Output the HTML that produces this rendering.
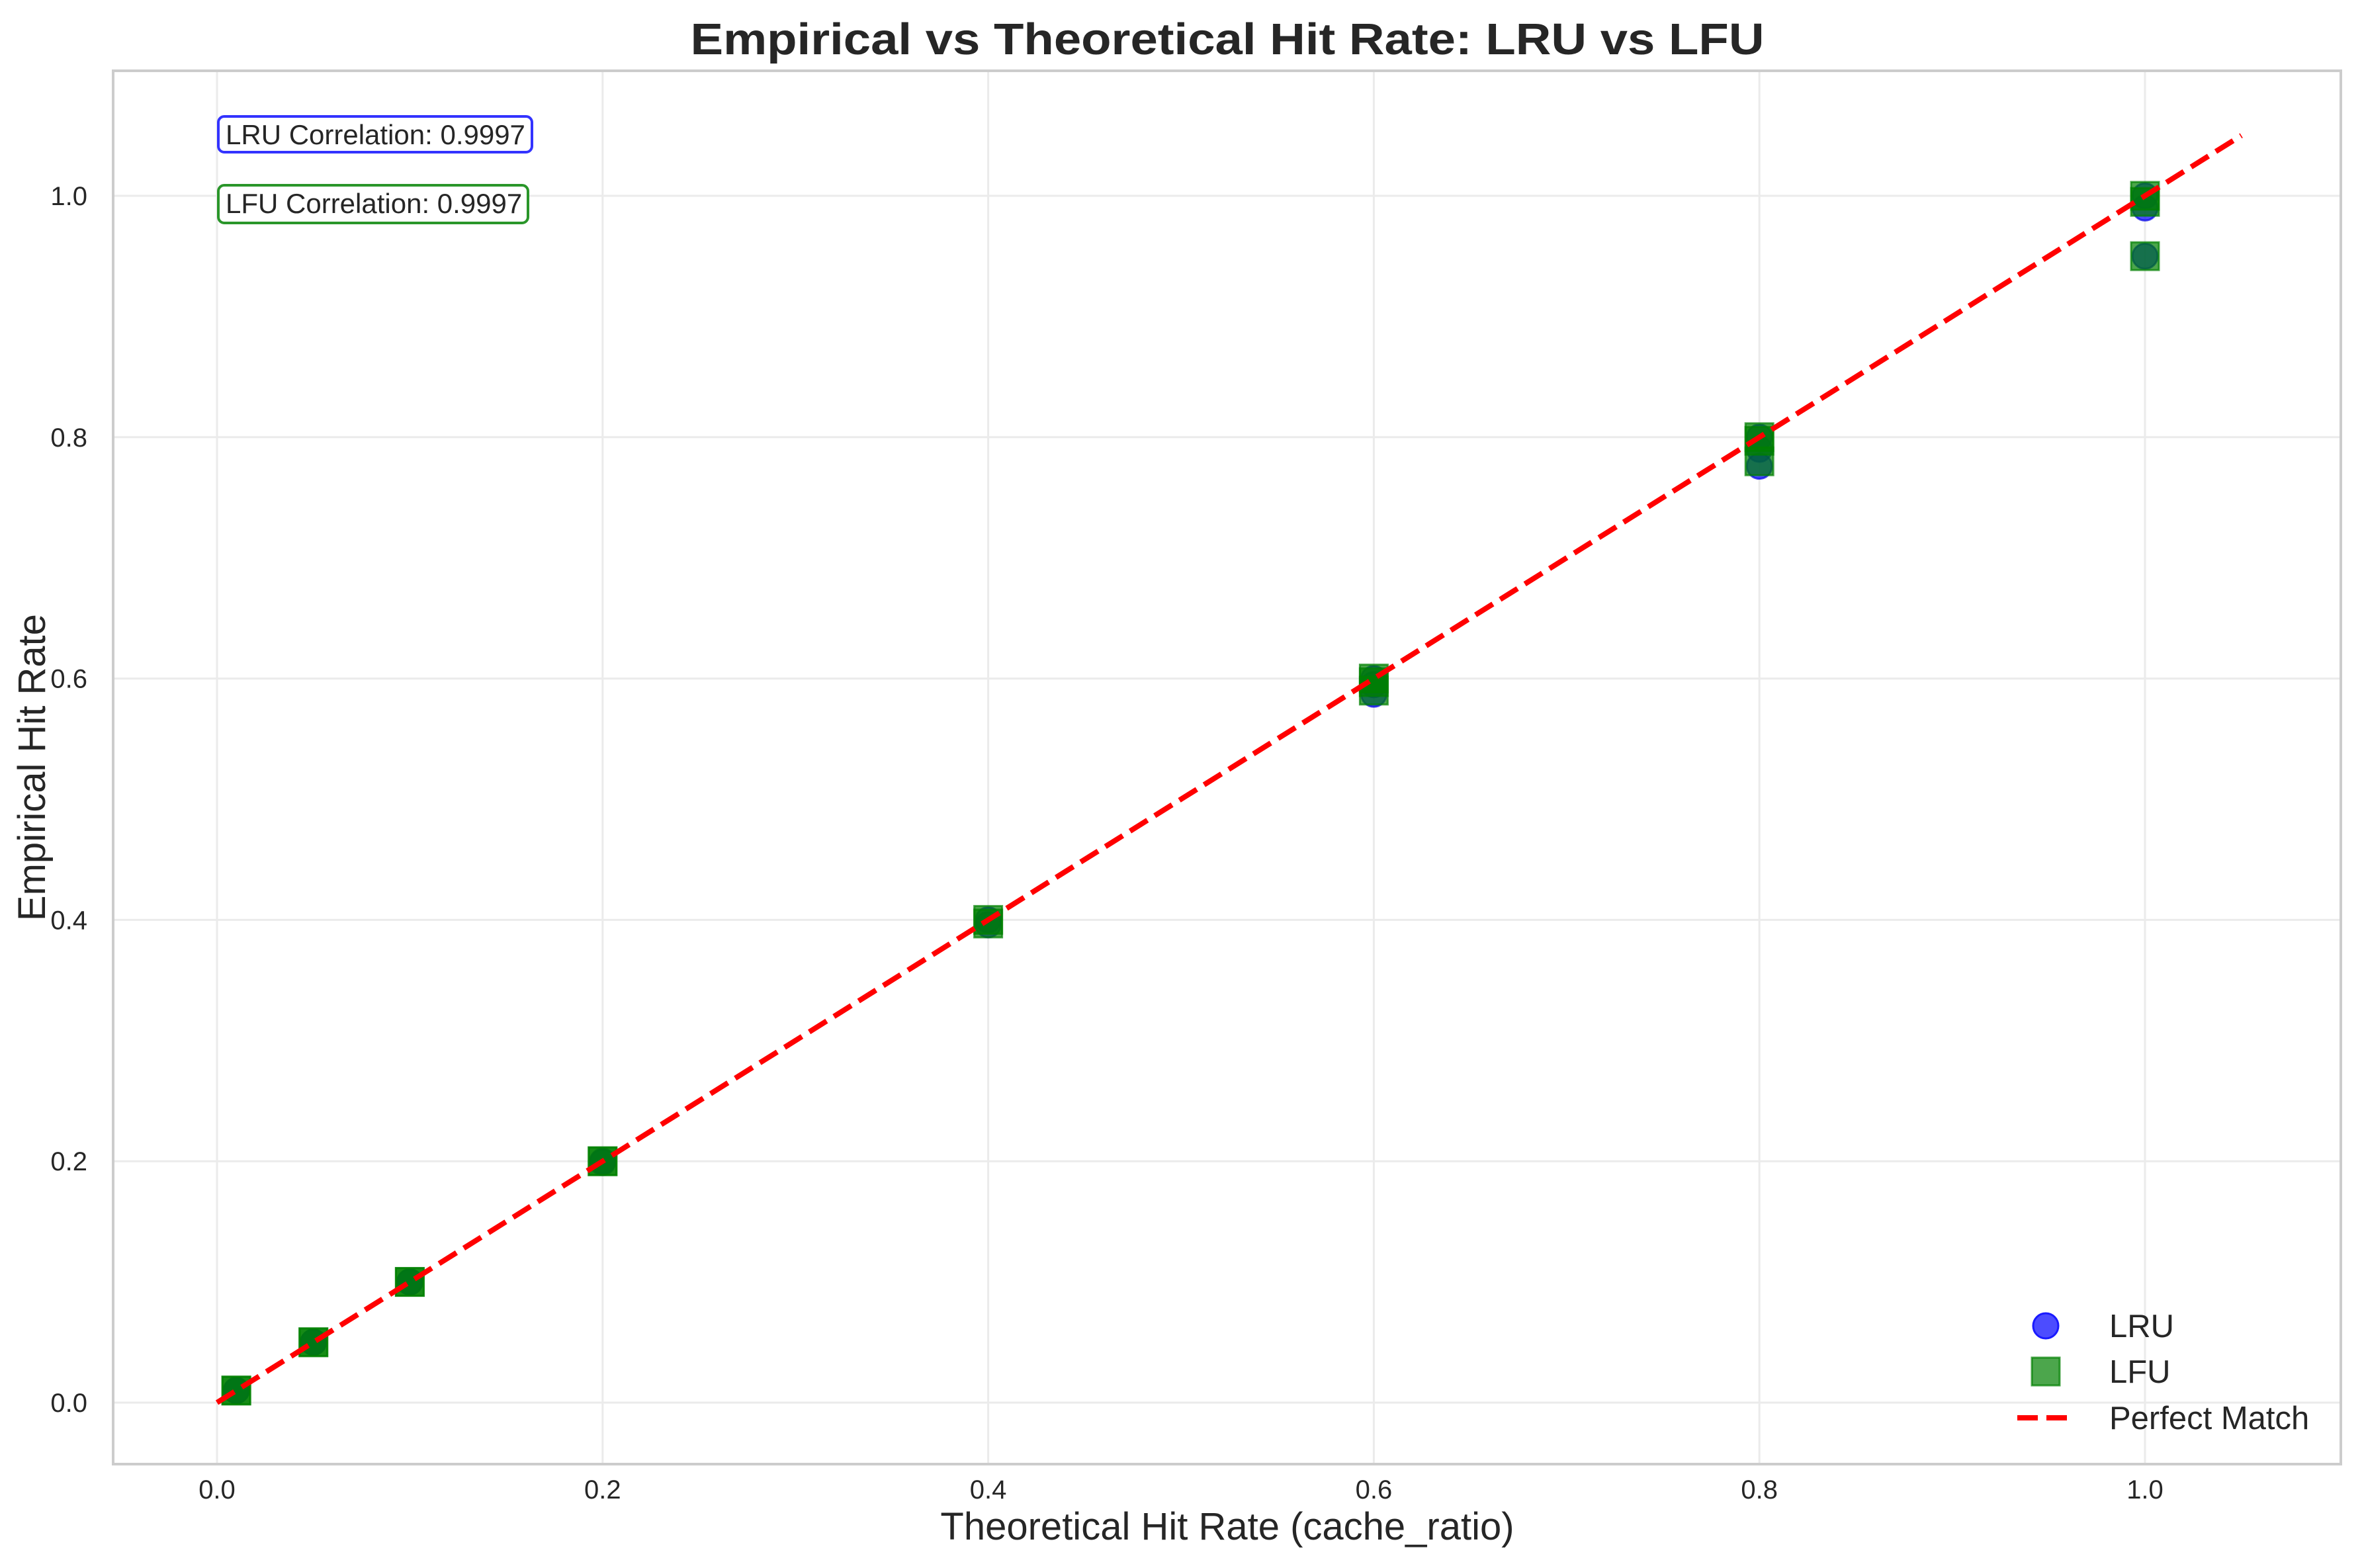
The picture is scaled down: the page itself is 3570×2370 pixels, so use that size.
<!DOCTYPE html>
<html><head><meta charset="utf-8"><style>
html,body{margin:0;padding:0;background:#fff;}
svg{display:block;font-family:"Liberation Sans",Arial,sans-serif;}
</style></head><body>
<svg id="chart" width="3570" height="2370" viewBox="0 0 3570 2370" xmlns="http://www.w3.org/2000/svg">
<rect x="0" y="0" width="3570" height="2370" fill="#fff"/>
<g id="grid"></g>
<g id="marks"></g>
<rect x="171" y="107" width="3367" height="2106" fill="none" stroke="#cccccc" stroke-width="4"/>
<g id="ticks"></g>
<text x="1855" y="82" text-anchor="middle" font-size="67" font-weight="bold" fill="#262626" textLength="1623" lengthAdjust="spacingAndGlyphs">Empirical vs Theoretical Hit Rate: LRU vs LFU</text>
<text x="1855" y="2327" text-anchor="middle" font-size="58" fill="#262626">Theoretical Hit Rate (cache_ratio)</text>
<text x="0" y="0" transform="translate(68,1160) rotate(-90)" text-anchor="middle" font-size="58" fill="#262626">Empirical Hit Rate</text>
<g>
<rect x="330" y="176" width="474" height="54" rx="9" fill="#fff" stroke="#3333ff" stroke-width="4"/>
<text x="341" y="218" font-size="42" fill="#262626">LRU Correlation: 0.9997</text>
</g>
<g>
<rect x="330" y="280" width="468" height="57" rx="9" fill="#fff" stroke="#2a962a" stroke-width="4"/>
<text x="341" y="322" font-size="42" fill="#262626">LFU Correlation: 0.9997</text>
</g>
<g>
<g>
<circle cx="3092" cy="2004" r="19" fill="rgba(0,0,255,0.7)" stroke="#1a1aff" stroke-width="3"/>
<text x="3188" y="2021" font-size="49" fill="#262626">LRU</text>
</g>
<g>
<rect x="3071" y="2052" width="42" height="42" fill="rgba(0,128,0,0.7)" stroke="rgba(0,128,0,0.7)" stroke-width="3"/>
<text x="3188" y="2090" font-size="49" fill="#262626">LFU</text>
</g>
<g>
<line x1="3049" y1="2143" x2="3135" y2="2143" stroke="#ff0000" stroke-width="8" stroke-dasharray="31,13"/>
<text x="3188" y="2160" font-size="49" fill="#262626">Perfect Match</text>
</g>
</g>
</svg>
<script>
const xTicks = [0.0, 0.2, 0.4, 0.6, 0.8, 1.0];
const yTicks = [0.0, 0.2, 0.4, 0.6, 0.8, 1.0];
const xTickLabels = ["0.0","0.2","0.4","0.6","0.8","1.0"];
const yTickLabels = ["0.0","0.2","0.4","0.6","0.8","1.0"];
const lruX = [0.01,0.01,0.05,0.05,0.1,0.1,0.2,0.2,0.4,0.4,0.6,0.6,0.6,0.8,0.8,0.8,1.0,1.0,1.0];
const lruY = [0.01,0.01,0.05,0.05,0.1,0.1,0.2,0.199,0.4,0.396,0.6,0.595,0.587,0.8,0.79,0.776,1.0,0.99,0.95];
const lfuX = [0.01,0.01,0.05,0.05,0.1,0.1,0.2,0.2,0.4,0.4,0.6,0.6,0.6,0.8,0.8,0.8,1.0,1.0,1.0];
const lfuY = [0.01,0.01,0.05,0.05,0.1,0.1,0.2,0.2,0.4,0.397,0.6,0.597,0.59,0.8,0.797,0.78,1.0,0.995,0.95];
const perfectLine = [0, 1.05];

const NS = "http://www.w3.org/2000/svg";
function sx(v){ return 328 + v * 2914; }
function sy(v){ return 2120 - v * 1824; }
function mk(tag, attrs, parent){
  const e = document.createElementNS(NS, tag);
  for (const k in attrs) e.setAttribute(k, attrs[k]);
  parent.appendChild(e);
  return e;
}
const grid = document.getElementById('grid');
const ticks = document.getElementById('ticks');
const marks = document.getElementById('marks');

xTicks.forEach((v, i) => {
  const g = mk('line', {x1: sx(v), x2: sx(v), y1: 107, y2: 2213, stroke: '#ebebeb', 'stroke-width': 3}, grid);
  
  
  const t = mk('text', {x: sx(v), y: 2265, 'text-anchor': 'middle', 'font-size': 40, fill: '#262626'}, ticks);
  t.textContent = xTickLabels[i];
  
  
});
yTicks.forEach((v, i) => {
  const g = mk('line', {x1: 171, x2: 3538, y1: sy(v), y2: sy(v), stroke: '#ebebeb', 'stroke-width': 3}, grid);
  
  
  const t = mk('text', {x: 132, y: sy(v) + 14, 'text-anchor': 'end', 'font-size': 40, fill: '#262626'}, ticks);
  t.textContent = yTickLabels[i];
  
  
});

lruX.forEach((v, i) => {
  const c = mk('circle', {cx: sx(v), cy: sy(lruY[i]), r: 19, fill: 'rgba(0,0,255,0.7)', stroke: 'rgba(0,0,230,0.7)', 'stroke-width': 3}, marks);
  
  
});
lfuX.forEach((v, i) => {
  const r = mk('rect', {x: sx(v) - 21, y: sy(lfuY[i]) - 21, width: 42, height: 42, fill: 'rgba(0,128,0,0.7)', stroke: 'rgba(0,128,0,0.7)', 'stroke-width': 3}, marks);
  
  
});
const pl = mk('line', {x1: sx(perfectLine[0]), y1: sy(perfectLine[0]), x2: sx(perfectLine[1]), y2: sy(perfectLine[1]), stroke: '#ff0000', 'stroke-width': 8, 'stroke-dasharray': '31,13'}, marks);


</script>
</body></html>
